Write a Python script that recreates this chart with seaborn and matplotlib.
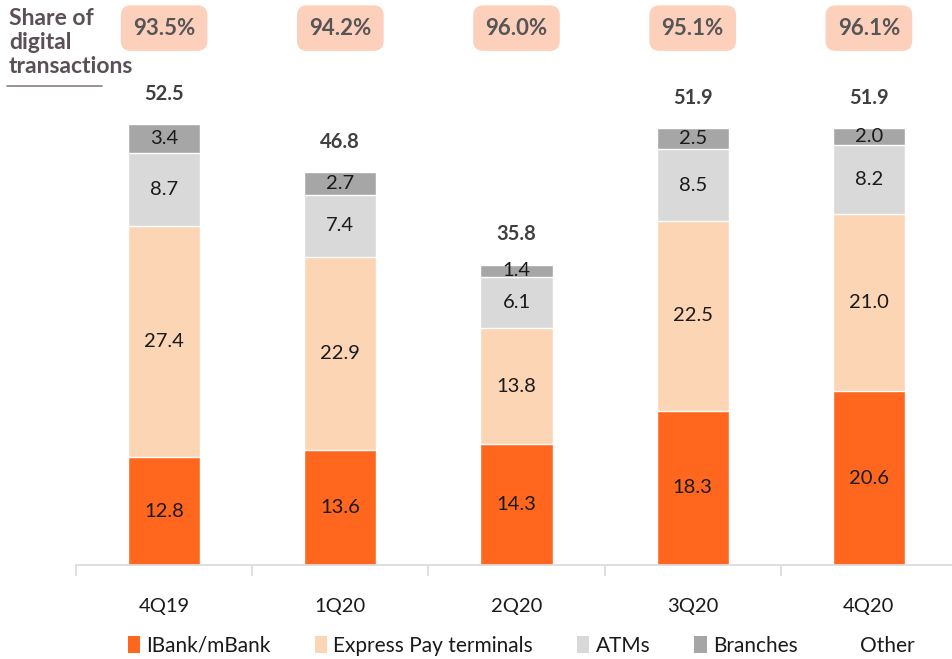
import matplotlib
matplotlib.use('Agg')
import numpy as np
import pandas as pd
import matplotlib.pyplot as plt
import matplotlib.transforms as mtransforms
from matplotlib.patches import Patch
import seaborn as sns

# ── Data ──────────────────────────────────────────────
quarters = ['4Q19', '1Q20', '2Q20', '3Q20', '4Q20']
ibank = [12.8, 13.6, 14.3, 18.3, 20.6]
express_pay = [27.4, 22.9, 13.8, 22.5, 21.0]
atms = [8.7, 7.4, 6.1, 8.5, 8.2]
branches = [3.4, 2.7, 1.4, 2.5, 2.0]
other = [0.2, 0.2, 0.2, 0.1, 0.1]
totals = [52.5, 46.8, 35.8, 51.9, 51.9]
digital_share = ['93.5%', '94.2%', '96.0%', '95.1%', '96.1%']

series_names = ['IBank/mBank', 'Express Pay terminals', 'ATMs', 'Branches', 'Other']
colors = ['#FF671F', '#FCD5B5', '#D9D9D9', '#A6A6A6', '#FFFFFF']

sns.set_style('white')
plt.rcParams['font.family'] = ['Lato', 'DejaVu Sans']

df = pd.DataFrame({'quarter': quarters, 'IBank/mBank': ibank,
                   'Express Pay terminals': express_pay, 'ATMs': atms,
                   'Branches': branches, 'Other': other})
cum = df[series_names].cumsum(axis=1)

fig = plt.figure(figsize=(9.53, 6.59), dpi=100)
ax = fig.add_axes([76 / 953, 1 - 565 / 659, 881 / 953, 506 / 659])

# stacked bars drawn as overlapping cumulative sums, top layer first
for name, col in reversed(list(zip(series_names, colors))):
    sns.barplot(x=df['quarter'], y=cum[name], color=col, width=0.41,
                order=quarters, ax=ax, saturation=1)

# segment labels
for i in range(len(quarters)):
    base = 0
    for name in series_names[:4]:
        v = df[name][i]
        ax.text(i, base + v / 2, f'{v:.1f}', ha='center', va='center',
                fontsize=14.5, color='#1a1a1a')
        base += v
    ax.text(i, cum['Branches'][i] + 3.6, f'{totals[i]:.1f}', ha='center',
            va='center', fontsize=14.5, fontweight='bold', color='#404040')

# share of digital transactions boxes
trans = mtransforms.blended_transform_factory(ax.transData, ax.transAxes)
for i, s in enumerate(digital_share):
    ax.text(i, 1.061, s, transform=trans, ha='center', va='center',
            fontsize=16, fontweight='bold', color='#555555', clip_on=False,
            bbox=dict(boxstyle='round,pad=0.55,rounding_size=0.45',
                      fc='#FDD0BC', ec='none'))

fig.text(9 / 953, 1 - 8 / 659, 'Share of\ndigital\ntransactions', ha='left',
         va='top', fontsize=16.5, fontweight='bold', color='#5B5057',
         linespacing=1.18)
fig.add_artist(plt.Line2D([7 / 953, 102 / 953], [1 - 86 / 659, 1 - 86 / 659],
                          color='#8A7F85', lw=1.2))

ax.set_xlim(-0.5, 4.5)
ax.set_ylim(0, 60)
ax.set_xlabel('')
ax.set_ylabel('')
ax.set_yticks([])
sns.despine(ax=ax, left=True)
ax.spines['bottom'].set_color('#D9D9D9')
ax.spines['bottom'].set_linewidth(1.2)
ax.set_xticks(np.arange(-0.5, 4.6, 1.0), minor=True)
ax.tick_params(axis='x', which='major', length=0, pad=24, labelsize=14.5,
               labelcolor='#1a1a1a')
ax.tick_params(axis='x', which='minor', length=8, color='#D9D9D9', width=1.2,
               bottom=True)

handles = [Patch(facecolor=c, edgecolor='none') for c in colors]
fig.legend(handles, series_names, loc='center', ncol=5, frameon=False,
           bbox_to_anchor=(0.547, 1 - 646 / 659), fontsize=15,
           handlelength=0.6, handleheight=0.9, handletextpad=0.3,
           columnspacing=2.1, labelcolor='#1a1a1a')

fig.savefig('out.png', dpi=100)
